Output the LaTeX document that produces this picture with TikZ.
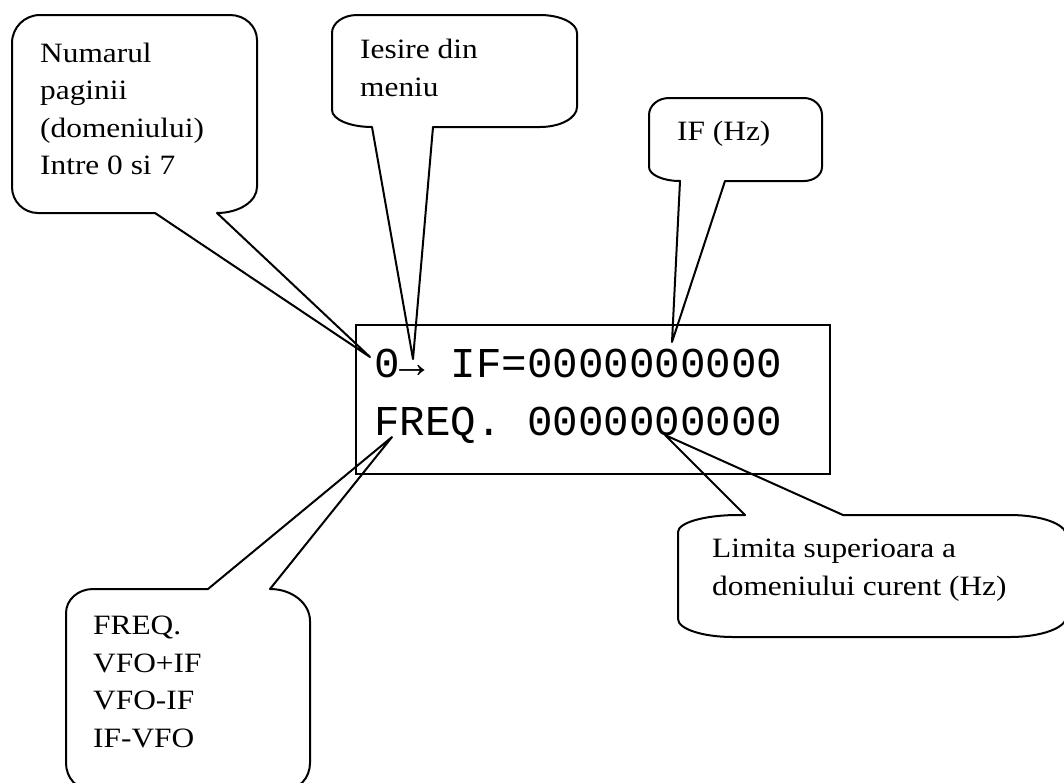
\documentclass[tikz,border=0pt]{standalone}
\usepackage{fontspec}
\setmainfont{Liberation Serif}[FakeStretch=1.12]
\setmonofont{Liberation Mono}
\usetikzlibrary{positioning}
\tikzset{
    bubble/.style={draw, line width=2pt, line join=round},
    bubble text/.style={anchor=base west, inner sep=0pt, align=left, font=\fontsize{28}{37.5}\selectfont},
    lcd frame/.style={draw, line width=2pt, rectangle, inner sep=0pt},
    lcd text/.style={anchor=base west, inner sep=0pt, font=\ttfamily\fontsize{42.5}{50}\selectfont}
}

\begin{document}
\begin{tikzpicture}[x=1pt,y=-1pt]
	\useasboundingbox (0,0) rectangle (1064,782);
	\clip (0,0) rectangle (1064,782);
	% display
	\node[lcd frame, minimum width=474pt, minimum height=149pt] (lcd) at (593,399.5) {};
	\node[lcd text] (row1) at (374,377) {0→ IF=0000000000};
	\node[lcd text] (row2) at (374,435) {FREQ. 0000000000};
	% where the pointers end
	\coordinate (tip page) at (370,357);
	\coordinate (tip exit) at (413,359);
	\coordinate (tip if) at (672,342);
	\coordinate (tip mode) at (392,437);
	\coordinate (tip limit) at (665,435);
	% texts (base = last line)
	\node[bubble text] (page) at (40,174.5) {Numarul\\paginii\\(domeniului)\\Intre 0 si 7};
	\node[bubble text] (exit) at (360,96) {Iesire din\\meniu};
	\node[bubble text] (ifhz) at (677,140) {IF (Hz)};
	\node[bubble text] (mode) at (93,747) {FREQ.\\VFO+IF\\VFO-IF\\IF-VFO};
	\node[bubble text] (limit) at (712,595) {Limita superioara a\\domeniului curent (Hz)};
	% callouts
	\draw[bubble] (12,43) arc[start angle=180, end angle=270, x radius=28, y radius=28]
		-- (230,15) arc[start angle=270, end angle=360, x radius=27, y radius=25]
		-- (257,187) arc[start angle=0, end angle=90, x radius=40, y radius=26]
		-- (tip page) -- (155,213) -- (38,213)
		arc[start angle=90, end angle=180, x radius=26, y radius=26] -- cycle;
	\draw[bubble] (332,33) arc[start angle=180, end angle=270, x radius=25, y radius=18]
		-- (540,15) arc[start angle=270, end angle=360, x radius=37, y radius=18]
		-- (577,107) arc[start angle=0, end angle=90, x radius=37, y radius=20]
		-- (433,127) -- (tip exit) -- (372,127)
		arc[start angle=90, end angle=180, x radius=40, y radius=17] -- cycle;
	\draw[bubble] (649,115) arc[start angle=180, end angle=270, x radius=20, y radius=17]
		-- (804,98) arc[start angle=270, end angle=360, x radius=18, y radius=17]
		-- (822,167) arc[start angle=0, end angle=90, x radius=18, y radius=14]
		-- (725,181) -- (tip if) -- (680,181)
		arc[start angle=90, end angle=180, x radius=31, y radius=14] -- cycle;
	\draw[bubble] (66,613) arc[start angle=180, end angle=270, x radius=27, y radius=24]
		-- (208,589) -- (tip mode) -- (270,589)
		arc[start angle=270, end angle=360, x radius=40, y radius=32]
		-- (310,763) arc[start angle=0, end angle=90, x radius=25, y radius=27]
		-- (91,790) arc[start angle=90, end angle=180, x radius=25, y radius=27] -- cycle;
	\draw[bubble] (678,532) arc[start angle=180, end angle=270, x radius=60, y radius=17]
		-- (745,515) -- (tip limit) -- (843,515) -- (1010,515)
		arc[start angle=270, end angle=360, x radius=56, y radius=20]
		-- (1066,617) arc[start angle=0, end angle=90, x radius=56, y radius=20]
		-- (733,637) arc[start angle=90, end angle=180, x radius=55, y radius=18] -- cycle;
\end{tikzpicture}
\end{document}
